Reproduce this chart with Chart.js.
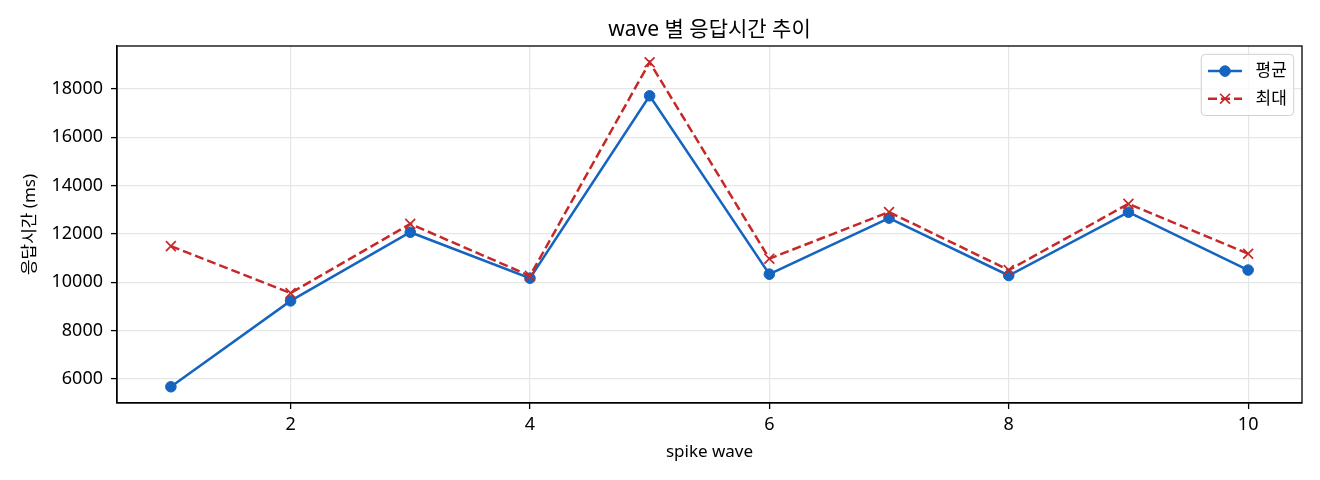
<!DOCTYPE html>
<html lang="ko">
<head>
<meta charset="utf-8">
<title>wave 별 응답시간 추이</title>
<script src="https://cdn.jsdelivr.net/npm/chart.js@4.4.1/dist/chart.umd.min.js"></script>
<style>
  html, body { margin: 0; padding: 0; background: #fff; }
  #wrap { width: 1320px; height: 480px; }
</style>
</head>
<body>
<div id="wrap"><canvas id="waveChart" width="1320" height="480"></canvas></div>
<script>
// wave 번호
const waves = [1, 2, 3, 4, 5, 6, 7, 8, 9, 10];
// 평균 응답시간 (ms)
const avgMs = [5670, 9225, 12065, 10165, 17710, 10330, 12650, 10275, 12895, 10500];
// 최대 응답시간 (ms)
const maxMs = [11490, 9545, 12410, 10260, 19100, 10970, 12900, 10500, 13240, 11175];
// 눈금
const xTicks = [2, 4, 6, 8, 10];
const yTicks = [6000, 8000, 10000, 12000, 14000, 16000, 18000];
const chartTitle = 'wave 별 응답시간 추이';

const FONT = '"Noto Sans", "Noto Sans CJK KR", sans-serif';
const BLUE = '#1565c0';
const RED = '#c62828';

// matplotlib 처럼 양쪽 5% 여백
function padRange(values, frac) {
    const lo = Math.min(...values), hi = Math.max(...values);
    const m = (hi - lo) * frac;
    return [lo - m, hi + m];
}
const [xMin, xMax] = padRange(waves, 0.05);
const [yMin, yMax] = padRange(avgMs.concat(maxMs), 0.05);

// 제목(플롯 영역 기준 가운데), 테두리(위/오른쪽), 범례 박스
const frameAndLegend = {
    id: 'frameAndLegend',
    afterDraw(chart) {
        const { ctx, chartArea } = chart;
        ctx.save();
        ctx.strokeStyle = '#000';
        ctx.lineWidth = 1.3;
        ctx.strokeRect(chartArea.left, chartArea.top,
            chartArea.right - chartArea.left, chartArea.bottom - chartArea.top);

        ctx.fillStyle = '#000';
        ctx.font = '21px ' + FONT;
        ctx.textAlign = 'center';
        ctx.textBaseline = 'middle';
        ctx.fillText(chartTitle, (chartArea.left + chartArea.right) / 2, 30);

        const fs = 17;
        ctx.font = fs + 'px ' + FONT;
        const sets = chart.data.datasets;
        const textW = Math.max(...sets.map(d => ctx.measureText(d.label).width));
        const pad = 0.4 * fs, handle = 2 * fs, gap = 0.8 * fs, rowH = 27.6;
        const w = pad * 2 + handle + gap + textW;
        const h = pad * 2 + 20 + (sets.length - 1) * rowH;
        const right = chartArea.right - 8.3, top = chartArea.top + 8.3;
        const left = right - w;

        // 둥근 사각형
        const r = 4;
        ctx.beginPath();
        ctx.moveTo(left + r, top);
        ctx.lineTo(right - r, top);
        ctx.arcTo(right, top, right, top + r, r);
        ctx.lineTo(right, top + h - r);
        ctx.arcTo(right, top + h, right - r, top + h, r);
        ctx.lineTo(left + r, top + h);
        ctx.arcTo(left, top + h, left, top + h - r, r);
        ctx.lineTo(left, top + r);
        ctx.arcTo(left, top, left + r, top, r);
        ctx.closePath();
        ctx.fillStyle = 'rgba(255,255,255,0.8)';
        ctx.fill();
        ctx.strokeStyle = '#d0d0d0';
        ctx.lineWidth = 1;
        ctx.stroke();

        sets.forEach((d, i) => {
            const cy = top + pad + 10 + i * rowH;
            const x0 = left + pad, x1 = x0 + handle, xm = (x0 + x1) / 2;
            ctx.save();
            ctx.strokeStyle = d.borderColor;
            ctx.lineWidth = d.borderWidth;
            ctx.setLineDash(d.borderDash || []);
            ctx.beginPath();
            ctx.moveTo(x0, cy);
            ctx.lineTo(x1, cy);
            ctx.stroke();
            ctx.setLineDash([]);
            // drawPoint 는 현재 fill/stroke 스타일을 사용
            ctx.fillStyle = d.pointBackgroundColor;
            ctx.strokeStyle = d.pointBorderColor;
            ctx.lineWidth = d.pointBorderWidth;
            Chart.helpers.drawPoint(ctx, {
                pointStyle: d.pointStyle,
                radius: d.pointRadius,
                borderWidth: d.pointBorderWidth,
                rotation: 0
            }, xm, cy);
            ctx.restore();
            ctx.fillStyle = '#000';
            ctx.textAlign = 'left';
            ctx.textBaseline = 'middle';
            ctx.fillText(d.label, x1 + gap, cy);
        });
        ctx.restore();
    }
};

const ctx = document.getElementById('waveChart').getContext('2d');
new Chart(ctx, {
    type: 'line',
    data: {
        datasets: [
            {
                label: '평균',
                data: waves.map((w, i) => ({ x: w, y: avgMs[i] })),
                borderColor: BLUE,
                backgroundColor: BLUE,
                borderWidth: 2.5,
                pointStyle: 'circle',
                pointRadius: 5.3,
                pointBorderWidth: 1,
                pointBackgroundColor: BLUE,
                pointBorderColor: BLUE,
                tension: 0,
                order: 1
            },
            {
                label: '최대',
                data: waves.map((w, i) => ({ x: w, y: maxMs[i] })),
                borderColor: RED,
                backgroundColor: RED,
                borderWidth: 2.5,
                borderDash: [9, 4],
                pointStyle: 'crossRot',
                pointRadius: 7,
                pointBorderWidth: 1.7,
                pointBackgroundColor: RED,
                pointBorderColor: RED,
                tension: 0,
                order: 0
            }
        ]
    },
    options: {
        responsive: false,
        animation: false,
        events: [],
        layout: { padding: { left: 0, right: 18, top: 46, bottom: 0 } },
        plugins: {
            legend: { display: false },
            tooltip: { enabled: false },
            title: { display: false }
        },
        scales: {
            x: {
                type: 'linear',
                min: xMin,
                max: xMax,
                afterBuildTicks: axis => { axis.ticks = xTicks.map(v => ({ value: v })); },
                afterFit: axis => { axis.height = 77; },
                ticks: {
                    color: '#000',
                    padding: 5,
                    font: { family: FONT, size: 18 },
                    callback: v => String(v)
                },
                grid: {
                    color: '#e6e6e6',
                    lineWidth: 1.2,
                    tickColor: '#000',
                    tickLength: 6,
                    tickWidth: 1.3
                },
                border: { display: true, color: '#000', width: 1.3 },
                title: {
                    display: true,
                    text: 'spike wave',
                    color: '#000',
                    font: { family: FONT, size: 17 },
                    padding: { top: 0, bottom: 18 }
                }
            },
            y: {
                type: 'linear',
                min: yMin,
                max: yMax,
                afterBuildTicks: axis => { axis.ticks = yTicks.map(v => ({ value: v })); },
                afterFit: axis => { axis.width = 117; },
                ticks: {
                    color: '#000',
                    padding: 8,
                    font: { family: FONT, size: 18 },
                    callback: v => String(v)
                },
                grid: {
                    color: '#e6e6e6',
                    lineWidth: 1.2,
                    tickColor: '#000',
                    tickLength: 6,
                    tickWidth: 1.3
                },
                border: { display: true, color: '#000', width: 1.3 },
                title: {
                    display: true,
                    text: '응답시간 (ms)',
                    color: '#000',
                    font: { family: FONT, size: 17 },
                    padding: { top: 20, bottom: 0 }
                }
            }
        }
    },
    plugins: [frameAndLegend]
});
</script>
</body>
</html>
